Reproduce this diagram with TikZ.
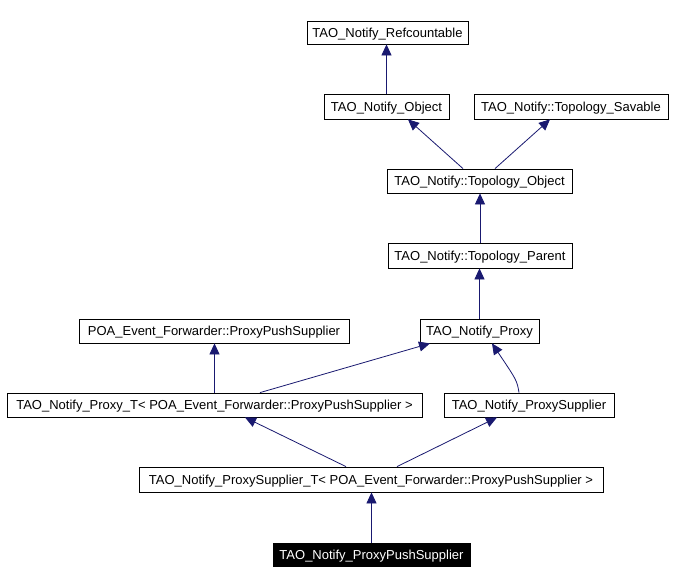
\documentclass[tikz,border=0pt]{standalone}
\usepackage{fontspec}
\setmainfont{Liberation Sans}
\usetikzlibrary{arrows.meta,calc}
\definecolor{edgecol}{HTML}{191970}
\tikzset{
  cls/.style={draw=black, line width=0.8pt, fill=white, inner sep=0pt, minimum height=24pt,
    font=\fontsize{13}{15}\selectfont, text=black, anchor=center, text height=9.3pt, text depth=0pt},
  cur/.style={cls, fill=black, text=white},
  inh/.style={draw=edgecol, line width=0.8pt, -{Triangle[width=10pt,length=11pt]}, color=edgecol},
}
\begin{document}
\begin{tikzpicture}[x=1pt,y=-1pt]
\useasboundingbox[fill=white] (0,0) rectangle (675,584);
\node[cls, minimum width=161pt, minimum height=23pt] (ref) at (387.5,32.5) {TAO\_Notify\_Refcountable};
\node[cls, minimum width=125pt, minimum height=25pt] (obj) at (386.5,106.5) {TAO\_Notify\_Object};
\node[cls, minimum width=194pt, minimum height=25pt] (sav) at (571,106.5) {TAO\_Notify::Topology\_Savable};
\node[cls, minimum width=185pt] (tobj) at (479.5,181) {TAO\_Notify::Topology\_Object};
\node[cls, minimum width=184pt, minimum height=25pt] (tpar) at (480,255.5) {TAO\_Notify::Topology\_Parent};
\node[cls, minimum width=270pt] (poa) at (214,331) {POA\_Event\_Forwarder::ProxyPushSupplier};
\node[cls, minimum width=119pt] (proxy) at (479.5,331) {TAO\_Notify\_Proxy};
\node[cls, minimum width=415pt] (proxyT) at (214.5,405) {TAO\_Notify\_Proxy\_T< POA\_Event\_Forwarder::ProxyPushSupplier >};
\node[cls, minimum width=170pt] (psup) at (529,405) {TAO\_Notify\_ProxySupplier};
\node[cls, minimum width=464pt, minimum height=25pt] (psupT) at (371,479.5) {TAO\_Notify\_ProxySupplier\_T< POA\_Event\_Forwarder::ProxyPushSupplier >};
\node[cur, minimum width=197pt, minimum height=23pt] (pps) at (371.5,554.5) {TAO\_Notify\_ProxyPushSupplier};

\draw[inh] (obj.north) -- (obj.north |- ref.south);
\draw[inh] ([xshift=-16.5pt]tobj.north) -- ([xshift=21.5pt]obj.south);
\draw[inh] ([xshift=15.5pt]tobj.north) -- ([xshift=-21pt]sav.south);
\draw[inh] (tpar.north) -- (tpar.north |- tobj.south);
\draw[inh] (proxy.north) -- (proxy.north |- tpar.south);
\draw[inh] (proxyT.north) -- (proxyT.north |- poa.south);
\draw[inh] ([xshift=45.5pt]proxyT.north) -- ([xshift=-49.5pt]proxy.south);
\draw[inh] ([xshift=-10pt]psup.north) .. controls ([xshift=-12pt,yshift=12pt]psup.north) .. ([xshift=12.5pt]proxy.south);
\draw[inh] ([xshift=-25pt]psupT.north) -- ([xshift=30.5pt]proxyT.south);
\draw[inh] ([xshift=26pt]psupT.north) -- ([xshift=-32pt]psup.south);
\draw[inh] (pps.north) -- (pps.north |- psupT.south);
\end{tikzpicture}
\end{document}
